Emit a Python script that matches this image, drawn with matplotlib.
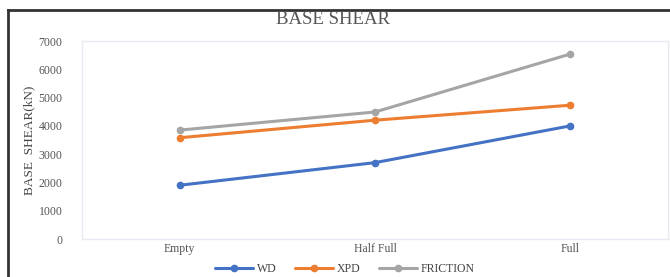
import matplotlib
matplotlib.use("Agg")
import matplotlib.pyplot as plt
from matplotlib.lines import Line2D

categories = ["Empty", "Half Full", "Full"]
wd = [1900, 2700, 4000]
xpd = [3580, 4200, 4730]
friction = [3850, 4490, 6540]
series_names = ["WD", "XPD", "FRICTION"]
colors = ["#4472C4", "#ED7D31", "#A5A5A5"]
yticks = [0, 1000, 2000, 3000, 4000, 5000, 6000, 7000]

plt.rcParams['font.family'] = ['Liberation Serif', 'DejaVu Serif']

W, H = 670, 277
fig = plt.figure(figsize=(W/100, H/100), dpi=100)
fig.patch.set_facecolor("white")

# outer dark frame (left and top edges visible)
fig.add_artist(Line2D([8/W, 8/W], [0, 1 - 10/H], transform=fig.transFigure, color="#333333", lw=2))
fig.add_artist(Line2D([8/W, 1], [1 - 10/H, 1 - 10/H], transform=fig.transFigure, color="#333333", lw=2))

left, right, top, bottom = 82, 668, 41, 239
ax = fig.add_axes([left/W, 1 - bottom/H, (right-left)/W, (bottom-top)/H])
x = list(range(len(categories)))
for vals, name, c in zip([wd, xpd, friction], series_names, colors):
    ax.plot(x, vals, color=c, lw=2.2, marker="o", ms=4.5, label=name, solid_capstyle="round")

ax.set_xlim(-0.5, len(categories) - 0.5)
ax.set_ylim(0, 7000)
ax.set_yticks(yticks)
ax.set_yticklabels([str(v) for v in yticks], fontsize=8.5, color="#555555")
ax.set_xticks(x)
ax.set_xticklabels(categories, fontsize=8.5, color="#555555")
ax.tick_params(length=0, pad=14, axis="y")
ax.tick_params(length=0, pad=3, axis="x")
for s in ax.spines.values():
    s.set_color("#E6EAF2")
    s.set_linewidth(1)
ax.set_ylabel("BASE  SHEAR(kN)", fontsize=9.5, color="#444444", labelpad=2)

fig.text(333/W, 1 - 20/H, "BASE SHEAR", ha="center", va="center", fontsize=13.5, color="#555555")

handles, labels = ax.get_legend_handles_labels()
fig.legend(handles, labels, loc="center", bbox_to_anchor=(345/W, 1 - 269/H), ncol=3, frameon=False,
           fontsize=8.5, handlelength=3.2, columnspacing=1.6, handletextpad=0.3, labelcolor="#444444",
           borderpad=0)

fig.savefig("out.png", dpi=100)
